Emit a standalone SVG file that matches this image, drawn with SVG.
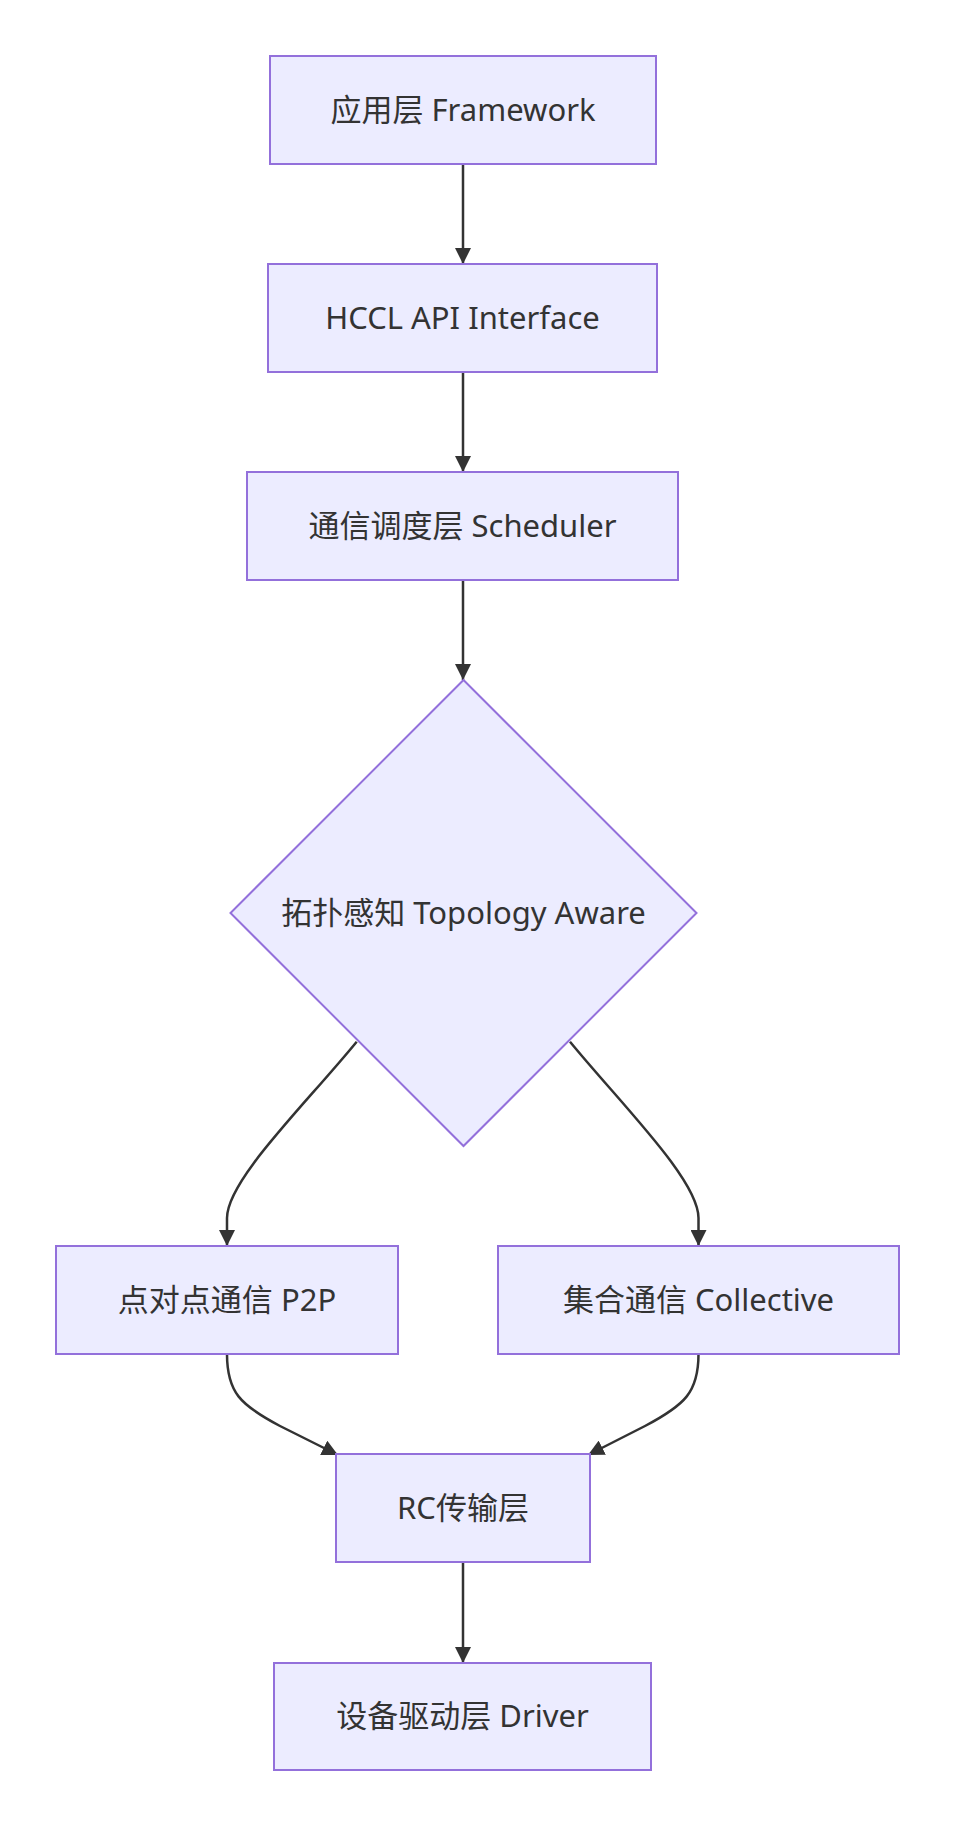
<svg xmlns="http://www.w3.org/2000/svg" width="955" height="1826" viewBox="0 0 955 1826">
<defs>
<style>
.node rect, .node polygon { fill: #ECECFF; stroke: #9370DB; stroke-width: 2; }
.node text { font-family: "Noto Sans", "Noto Sans CJK SC", sans-serif; font-size: 31px; fill: #333333; text-anchor: middle; }
.edges path { fill: none; stroke: #333333; stroke-width: 2.5; }
</style>
<marker id="arrow" viewBox="0 0 10 10" refX="10" refY="5" markerWidth="16" markerHeight="16" markerUnits="userSpaceOnUse" orient="auto">
<path d="M0,0 L10,5 L0,10 z" fill="#333333"/>
</marker>
</defs>
<rect width="955" height="1826" fill="#FFFFFF"/>
<g class="edges">
<path d="M463,164 L463,264" marker-end="url(#arrow)"/>
<path d="M463,372 L463,472" marker-end="url(#arrow)"/>
<path d="M463,580 L463,680" marker-end="url(#arrow)"/>
<path d="M356.7,1041.7 C305,1105 227,1180 227,1218 L227,1246" marker-end="url(#arrow)"/>
<path d="M570,1041.7 C622,1105 698.5,1180 698.5,1218 L698.5,1246" marker-end="url(#arrow)"/>
<path d="M227,1354 C227,1392 240,1405 280,1426 L338,1455" marker-end="url(#arrow)"/>
<path d="M698.5,1354 C698.5,1392 685,1405 645,1426 L588,1455" marker-end="url(#arrow)"/>
<path d="M463,1562 L463,1663" marker-end="url(#arrow)"/>
</g>
<g id="node-framework" class="node">
<rect x="270" y="56" width="386" height="108"/>
<text x="463" y="120.5">应用层 Framework</text>
</g>
<g id="node-api" class="node">
<rect x="268" y="264" width="389" height="108"/>
<text x="462.5" y="328.5">HCCL API Interface</text>
</g>
<g id="node-scheduler" class="node">
<rect x="247" y="472" width="431" height="108"/>
<text x="462.5" y="536.5">通信调度层 Scheduler</text>
</g>
<g id="node-topology" class="node">
<polygon points="463.5,680 696.5,913 463.5,1146 230.5,913"/>
<text x="463.5" y="923.5">拓扑感知 Topology Aware</text>
</g>
<g id="node-p2p" class="node">
<rect x="56" y="1246" width="342" height="108"/>
<text x="227" y="1310.5">点对点通信 P2P</text>
</g>
<g id="node-collective" class="node">
<rect x="498" y="1246" width="401" height="108"/>
<text x="698.5" y="1310.5">集合通信 Collective</text>
</g>
<g id="node-rc" class="node">
<rect x="336" y="1454" width="254" height="108"/>
<text x="463" y="1518.5">RC传输层</text>
</g>
<g id="node-driver" class="node">
<rect x="274" y="1663" width="377" height="107"/>
<text x="462.5" y="1726.5">设备驱动层 Driver</text>
</g>
</svg>
